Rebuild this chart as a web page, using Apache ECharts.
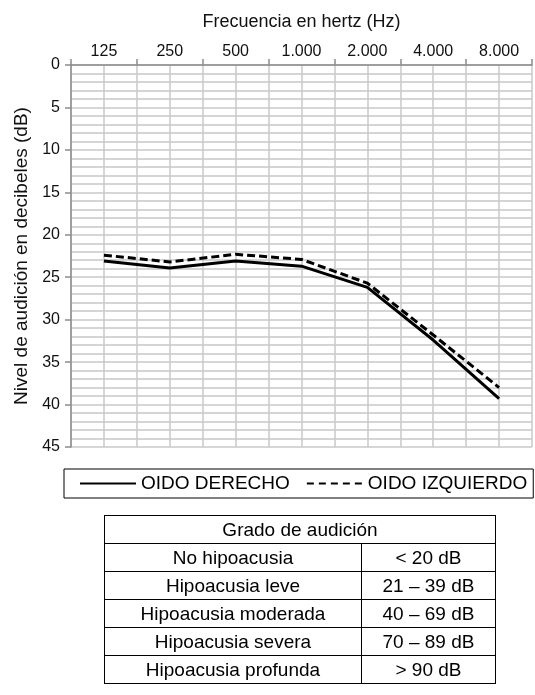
<!DOCTYPE html>
<html>
<head>
<meta charset="utf-8">
<script src="https://cdn.jsdelivr.net/npm/echarts@6/dist/echarts.min.js"></script>
<style>
  html, body { margin: 0; padding: 0; background: #fff; }
  #chart { position: absolute; left: 0; top: 0; width: 535px; height: 695px; }
  #tabla { position: absolute; left: 104px; top: 515px; width: 392px; border-collapse: collapse;
           font-family: "Liberation Sans", Arial, sans-serif; font-size: 19px; color: #000; }
  #tabla td { border: 1px solid #000; height: 27px; padding: 0; text-align: center; line-height: 27px; }
  #tabla td.c1 { width: 256px; }
</style>
</head>
<body>
<div id="chart"></div>
<table id="tabla"></table>
<script>
const categories = ['125', '250', '500', '1.000', '2.000', '4.000', '8.000'];
const oidoDerecho = [23.1, 23.9, 23.1, 23.7, 26.2, 32.4, 39.3];
const oidoIzquierdo = [22.4, 23.2, 22.3, 22.9, 25.7, 31.8, 38.0];
const seriesNames = ['OIDO DERECHO', 'OIDO IZQUIERDO'];
const tablaTitulo = 'Grado de audición';
const grados = ['No hipoacusia', 'Hipoacusia leve', 'Hipoacusia moderada', 'Hipoacusia severa', 'Hipoacusia profunda'];
const rangos = ['< 20 dB', '21 – 39 dB', '40 – 69 dB', '70 – 89 dB', '> 90 dB'];

const toPoints = vals => vals.map((v, i) => [i + 0.5, v]);
const gridColor = '#c8c8c8';
const axisColor = '#8c8c8c';
const font = '"Liberation Sans", Arial, sans-serif';

const chart = echarts.init(document.getElementById('chart'));
chart.setOption({
  animation: false,
  textStyle: { fontFamily: font },
  grid: { left: 71, right: -3, top: 65, bottom: 248 },
  legend: {
    data: [
      { name: seriesNames[0] },
      { name: seriesNames[1], lineStyle: { type: [7, 5], width: 2, color: '#000' } }
    ],
    left: 64, top: 469,
    itemWidth: 56, itemHeight: 14, itemGap: 16,
    padding: [5, 6, 5, 15],
    borderColor: '#000', borderWidth: 1,
    textStyle: { fontSize: 19, color: '#000', fontFamily: font },
    lineStyle: { width: 2 },
    itemStyle: { color: 'rgba(0,0,0,0)', borderWidth: 0, borderColor: 'rgba(0,0,0,0)' }
  },
  xAxis: [
    {
      type: 'value', position: 'top', min: 0, max: 7, interval: 0.5,
      axisLine: { show: true, lineStyle: { color: axisColor, width: 1.5 } },
      axisTick: { show: false },
      splitLine: { show: true, lineStyle: { color: gridColor, width: 1.5 } },
      axisLabel: {
        fontSize: 16, color: '#111', margin: 5,
        formatter: v => { const i = v - 0.5; return (Number.isInteger(i) && categories[i]) ? categories[i] : ''; }
      },
      name: 'Frecuencia en hertz (Hz)', nameLocation: 'middle', nameGap: 34,
      nameTextStyle: { fontSize: 18, color: '#111' }
    },
    {
      type: 'value', position: 'top', min: 0, max: 7, interval: 1,
      axisLine: { show: false },
      axisTick: { show: true, length: 6, lineStyle: { color: axisColor, width: 1.5 } },
      axisLabel: { show: false },
      splitLine: { show: false }
    }
  ],
  yAxis: {
    type: 'value', inverse: true, min: 0, max: 45, interval: 5,
    axisLine: { show: true, lineStyle: { color: axisColor, width: 1.5 } },
    axisTick: { show: true, length: 6, lineStyle: { color: axisColor, width: 1.5 } },
    minorTick: { show: false, splitNumber: 5 },
    splitLine: { show: true, lineStyle: { color: gridColor, width: 1.5 } },
    minorSplitLine: { show: true, lineStyle: { color: gridColor, width: 1.5 } },
    axisLabel: { fontSize: 16, color: '#111', margin: 11 },
    name: 'Nivel de audición en decibeles (dB)', nameLocation: 'middle', nameGap: 40,
    nameTextStyle: { fontSize: 19, color: '#111' }
  },
  series: [
    {
      name: seriesNames[0], type: 'line', xAxisIndex: 0, symbol: 'none',
      lineStyle: { color: '#000', width: 3, type: 'solid' },
      itemStyle: { color: '#000' },
      data: toPoints(oidoDerecho)
    },
    {
      name: seriesNames[1], type: 'line', xAxisIndex: 0, symbol: 'none',
      lineStyle: { color: '#000', width: 3, type: [8, 4] },
      itemStyle: { color: '#000' },
      data: toPoints(oidoIzquierdo)
    }
  ]
});

const tabla = document.getElementById('tabla');
let html = '<tr><td colspan="2">' + tablaTitulo + '</td></tr>';
grados.forEach((g, i) => {
  html += '<tr><td class="c1">' + g + '</td><td>' + rangos[i].replace('<', '&lt;').replace('>', '&gt;') + '</td></tr>';
});
tabla.innerHTML = html;
</script>
</body>
</html>
